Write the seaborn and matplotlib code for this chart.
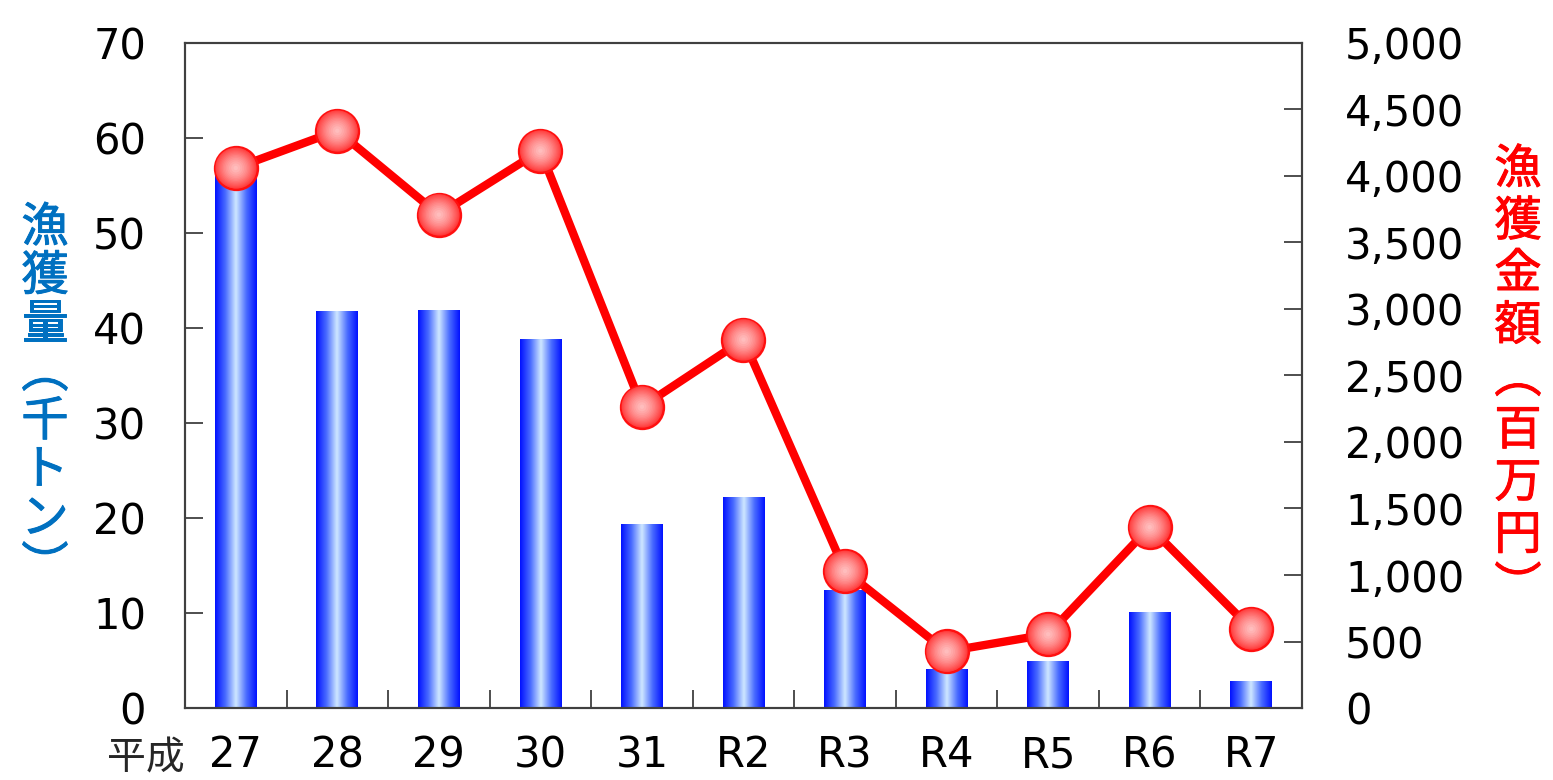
import numpy as np
import matplotlib
matplotlib.use('Agg')
import matplotlib.pyplot as plt
import matplotlib.patheffects as pe
from matplotlib.ticker import FuncFormatter, MultipleLocator
from matplotlib.colors import LinearSegmentedColormap
import seaborn as sns

categories = ['27', '28', '29', '30', '31', 'R2', 'R3', 'R4', 'R5', 'R6', 'R7']
catch_kt = [57.2, 41.8, 41.9, 38.8, 19.4, 22.2, 12.4, 4.1, 4.9, 10.1, 2.8]
amount_myen = [4060, 4340, 3710, 4190, 2265, 2770, 1030, 425, 555, 1360, 595]
era_label = '平成'
left_label = '漁獲量︵千トン︶'
right_label = '漁獲金額︵百万円︶'

sns.set_style('white')
plt.rcParams['font.family'] = ['DejaVu Sans', 'Noto Sans CJK JP']
cjk = ['Noto Sans CJK JP', 'DejaVu Sans']

fig = plt.figure(figsize=(15.53, 7.80), dpi=100)
ax = fig.add_axes([0.1191, 0.0923, 0.8384 - 0.1191, 0.9449 - 0.0923])

sns.barplot(x=categories, y=catch_kt, ax=ax, width=0.41, color='blue')

# horizontal gradient inside each bar
grad_cmap = LinearSegmentedColormap.from_list('bar', ['#0010ff', '#4a6cff', '#cfe8ff', '#4a6cff', '#0010ff'])
grad = np.linspace(0, 1, 256).reshape(1, -1)
for p in ax.patches:
    x0, y0 = p.get_x(), p.get_y()
    w, h = p.get_width(), p.get_height()
    im = ax.imshow(grad, cmap=grad_cmap, extent=[x0, x0 + w, y0, y0 + h],
                   aspect='auto', interpolation='bicubic', zorder=2)
    im.set_clip_path(p)
    p.set_facecolor('none')
    p.set_edgecolor('none')

ax.set_xlim(-0.5, len(categories) - 0.5)
ax.set_ylim(0, 70)
ax.yaxis.set_major_locator(MultipleLocator(10))

ax2 = ax.twinx()
sns.pointplot(x=categories, y=amount_myen, ax=ax2, color='red', linewidth=6,
              markers='o', markersize=0, errorbar=None)
# shaded round markers
xs = np.arange(len(categories))
n_layers = 14
for i in range(n_layers):
    t = i / (n_layers - 1)
    size = 940 * (1 - t) ** 1.3 + 10
    col = (1.0, 0.22 + 0.52 * t, 0.22 + 0.52 * t)
    ax2.scatter(xs, amount_myen, s=size, color=col, zorder=5 + i,
                edgecolor='#ff1010' if i == 0 else 'none', linewidth=1.8 if i == 0 else 0)
ax2.set_ylim(0, 5000)
ax2.set_xlim(-0.5, len(categories) - 0.5)
ax2.yaxis.set_major_locator(MultipleLocator(500))
ax2.yaxis.set_major_formatter(FuncFormatter(lambda v, pos: f'{int(v):,}'))

# ticks
ax.set_xticks(xs)
ax.set_xticklabels(categories)
ax.set_xticks(xs[:-1] + 0.5, minor=True)
ax.tick_params(axis='x', which='major', length=0, pad=19, labelsize=30, labelcolor='black')
ax.tick_params(axis='x', which='minor', direction='in', length=13, width=1.3, color='#404040', bottom=True)
ax.tick_params(axis='y', direction='in', length=13, width=1.3, color='#404040', pad=28, labelsize=30,
               left=True, labelcolor='black')
ax2.tick_params(axis='y', direction='in', length=13, width=1.3, color='#404040', pad=31, labelsize=30,
                right=True, labelcolor='black')
ax2.set_xlabel('')
ax2.set_ylabel('')
ax.set_ylabel('')

for a in (ax, ax2):
    for s in a.spines.values():
        s.set_color('#404040')
        s.set_linewidth(1.5)

fig.text(146 / 1553, 1 - 758 / 780, era_label, fontsize=28, ha='center', va='center', family=cjk)

fig.text(45 / 1553, 1 - 398 / 780, '\n'.join(left_label), fontsize=34, color='#0070c0',
         ha='center', va='center', linespacing=1.0, family=cjk,
         path_effects=[pe.withStroke(linewidth=0.7, foreground='#0070c0')])
fig.text(1518 / 1553, 1 - 379 / 780, '\n'.join(right_label), fontsize=34, color='red',
         ha='center', va='center', linespacing=1.1, family=cjk,
         path_effects=[pe.withStroke(linewidth=0.7, foreground='red')])

fig.savefig('out.png', dpi=100, facecolor='white')
